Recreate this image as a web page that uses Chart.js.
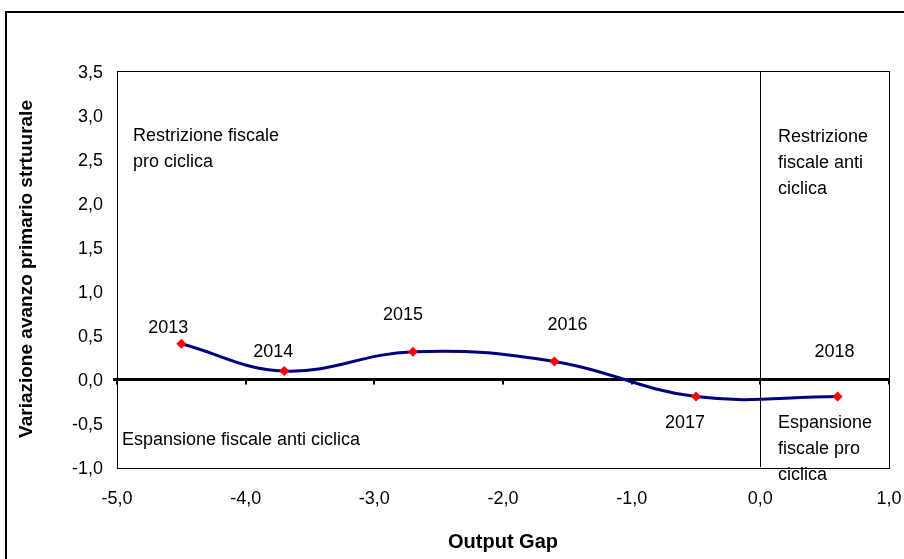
<!DOCTYPE html>
<html>
<head>
<meta charset="utf-8">
<script src="https://cdn.jsdelivr.net/npm/chart.js@4.4.0/dist/chart.umd.min.js"></script>
<style>
  html, body { margin: 0; padding: 0; background: #fff; }
  #wrap { width: 904px; height: 559px; }
</style>
</head>
<body>
<div id="wrap"><canvas id="myChart"></canvas></div>
<script>
// dati
var years = ['2013', '2014', '2015', '2016', '2017', '2018'];
var outputGap = [-4.5, -3.7, -2.7, -1.6, -0.5, 0.6];
var avanzo = [0.4, 0.09, 0.31, 0.2, -0.2, -0.2];
var xTicks = [-5, -4, -3, -2, -1, 0, 1];
var yTicks = [-1, -0.5, 0, 0.5, 1, 1.5, 2, 2.5, 3, 3.5];

var font = 'Liberation Sans, Arial, sans-serif';
var navy = '#000080';
var red = '#ff0000';

function fmt(v) {
    return v.toFixed(1).replace('.', ',');
}

// etichette degli anni, spostamento in pixel dal punto
var yearOffsets = [[-13, -16], [-11, -19], [-10, -37], [13, -36], [-11, 26], [-3, -45]];

// testi dei quadranti: posizione della prima riga in pixel
var quadrantText = [
    { x: 133, y: 136, lines: ['Restrizione fiscale', 'pro ciclica'] },
    { x: 778, y: 137, lines: ['Restrizione', 'fiscale anti', 'ciclica'] },
    { x: 122, y: 440, lines: ['Espansione fiscale anti ciclica'] },
    { x: 778, y: 423, lines: ['Espansione', 'fiscale pro', 'ciclica'] }
];

var extras = {
    id: 'extras',
    beforeDatasetsDraw: function(chart) {
        var ctx = chart.ctx;
        var a = chart.chartArea;
        var xs = chart.scales.x, ys = chart.scales.y;
        ctx.save();
        // cornice esterna
        ctx.strokeStyle = '#000';
        ctx.lineWidth = 2;
        ctx.strokeRect(6, 12, 920, 580);
        // area del grafico
        ctx.lineWidth = 1;
        ctx.strokeRect(a.left + 0.5, a.top + 0.5, a.right - a.left, a.bottom - a.top + 1);
        // linea verticale a 0
        var x0 = Math.round(xs.getPixelForValue(0)) + 0.5;
        ctx.beginPath();
        ctx.moveTo(x0, a.top);
        ctx.lineTo(x0, a.bottom);
        ctx.stroke();
        // asse orizzontale a 0
        var y0 = Math.round(ys.getPixelForValue(0)) + 0.5;
        ctx.lineWidth = 3;
        ctx.beginPath();
        ctx.moveTo(a.left - 4, y0);
        ctx.lineTo(a.right + 1, y0);
        ctx.stroke();
        ctx.lineWidth = 2;
        xTicks.forEach(function(t) {
            var px = Math.round(xs.getPixelForValue(t));
            ctx.beginPath();
            ctx.moveTo(px, y0);
            ctx.lineTo(px, y0 + 5);
            ctx.stroke();
        });
        // testi dei quadranti
        ctx.fillStyle = '#000';
        ctx.font = '18px ' + font;
        ctx.textAlign = 'left';
        ctx.textBaseline = 'middle';
        quadrantText.forEach(function(q) {
            q.lines.forEach(function(l, i) {
                ctx.fillText(l, q.x, q.y + i * 26);
            });
        });
        ctx.restore();
    },
    afterDatasetsDraw: function(chart) {
        var ctx = chart.ctx;
        var xs = chart.scales.x, ys = chart.scales.y;
        ctx.save();
        ctx.fillStyle = '#000';
        ctx.font = '18px ' + font;
        ctx.textAlign = 'center';
        ctx.textBaseline = 'middle';
        years.forEach(function(y, i) {
            var px = xs.getPixelForValue(outputGap[i]) + yearOffsets[i][0];
            var py = ys.getPixelForValue(avanzo[i]) + yearOffsets[i][1];
            ctx.fillText(y, px, py);
        });
        ctx.restore();
    }
};

var points = outputGap.map(function(v, i) {
    return { x: v, y: avanzo[i] };
});

var chart = new Chart(document.getElementById('myChart').getContext('2d'), {
    type: 'scatter',
    data: {
        datasets: [
            {
                label: 'Avanzo',
                data: points,
                showLine: true,
                tension: 0.4,
                borderColor: navy,
                borderWidth: 3,
                pointStyle: 'rectRot',
                pointRadius: 5,
                pointBackgroundColor: red,
                pointBorderColor: red,
                pointBorderWidth: 0
            }
        ]
    },
    options: {
        responsive: true,
        maintainAspectRatio: false,
        animation: false,
        layout: { padding: { top: 71, right: 15, left: 0, bottom: 0 } },
        plugins: {
            legend: { display: false },
            tooltip: { enabled: false }
        },
        scales: {
            x: {
                type: 'linear',
                min: -5,
                max: 1,
                afterBuildTicks: function(s) { s.ticks = xTicks.map(function(v) { return { value: v }; }); },
                afterFit: function(s) { s.height = 92; s.paddingLeft = 0; s.paddingRight = 0; },
                grid: { display: false, drawTicks: false },
                border: { display: false },
                ticks: {
                    color: '#000',
                    padding: 21,
                    maxRotation: 0,
                    font: { family: font, size: 18 },
                    callback: function(v) { return fmt(v); }
                },
                title: {
                    display: true,
                    text: 'Output Gap',
                    color: '#000',
                    font: { family: font, size: 20, weight: 'bold' },
                    padding: { top: 0, bottom: 5 }
                }
            },
            y: {
                type: 'linear',
                min: -1,
                max: 3.5,
                afterBuildTicks: function(s) { s.ticks = yTicks.map(function(v) { return { value: v }; }); },
                afterFit: function(s) { s.width = 117; s.paddingTop = 0; s.paddingBottom = 0; },
                grid: { display: false, drawTicks: false },
                border: { display: false },
                ticks: {
                    color: '#000',
                    padding: 14,
                    labelOffset: 2,
                    font: { family: font, size: 18 },
                    callback: function(v) { return fmt(v); }
                },
                title: {
                    display: true,
                    text: 'Variazione avanzo primario strtuurale',
                    color: '#000',
                    font: { family: font, size: 19, weight: 'bold' },
                    padding: { top: 15, bottom: 0 }
                }
            }
        }
    },
    plugins: [extras]
});
</script>
</body>
</html>
